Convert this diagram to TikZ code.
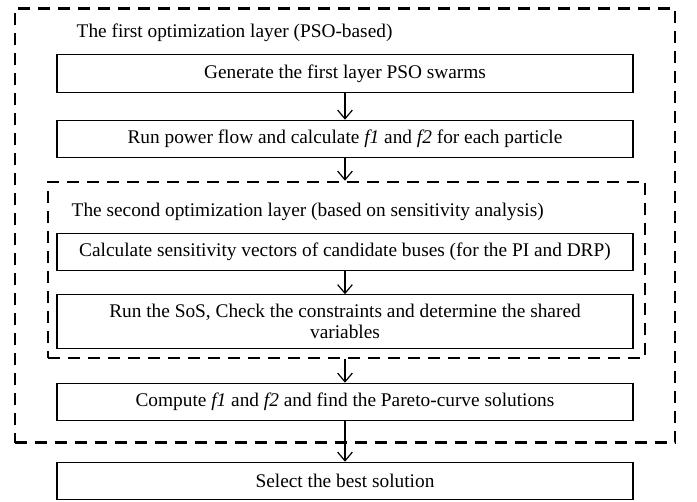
\documentclass[tikz,border=0pt]{standalone}
\usepackage{fontspec}
\setmainfont{Liberation Serif}
\usetikzlibrary{arrows.meta,positioning}

\begin{document}
\begin{tikzpicture}[x=0.75pt, y=-0.75pt, >={Straight Barb[length=6.5pt,width=11pt]},
  stepbox/.style={draw, line width=0.9pt, minimum width=432pt, minimum height=28pt,
    inner sep=0pt, align=center, font=\fontsize{14.5}{16}\selectfont},
  layerbox/.style={draw, dash pattern=on 9pt off 6pt, inner sep=0pt},
  flow/.style={->, line width=0.9pt}]

% --- PARAMETERS ---
\def\cx{345} % centre of the step boxes

% --- FRAME ---
\useasboundingbox (0,0) rectangle (697,502);

% --- LAYERS ---
\node[layerbox, line width=2.2pt, minimum width=495pt, minimum height=326pt]
  (layerA) at (345,225.5) {};
\node[layerbox, line width=1.9pt, minimum width=448pt, minimum height=132pt]
  (layerB) at (346.5,270) {};
\node[anchor=west, font=\fontsize{14.5}{16}\selectfont] (titleA) at (72,33)
  {The first optimization layer (PSO-based)};
\node[anchor=west, font=\fontsize{14.5}{16}\selectfont] (titleB) at (67,212)
  {The second optimization layer (based on sensitivity analysis)};

% --- STEPS ---
\node[stepbox] (gen) at (\cx,73.5) {Generate the first layer PSO swarms};
\node[stepbox] (run) at (\cx,139)
  {Run power flow and calculate \textit{f1} and \textit{f2} for each particle};
\node[stepbox] (sens) at (\cx,252)
  {Calculate sensitivity vectors of candidate buses (for the PI and DRP)};
\node[stepbox, minimum height=40pt] (sos) at (\cx,321.5)
  {Run the SoS, Check the constraints and determine the shared\\variables};
\node[stepbox] (pareto) at (\cx,402)
  {Compute \textit{f1} and \textit{f2} and find the Pareto-curve solutions};
\node[stepbox] (best) at (\cx,481) {Select the best solution};

% --- ARROWS ---
\draw[flow] (gen) -- (run);
\draw[flow] (run.south) -- (run.south |- layerB.north);
\draw[flow] (sens) -- (sos);
\draw[flow] (layerB.south -| pareto.north) -- (pareto.north);
\draw[flow] (pareto) -- (best);

\end{tikzpicture}
\end{document}
